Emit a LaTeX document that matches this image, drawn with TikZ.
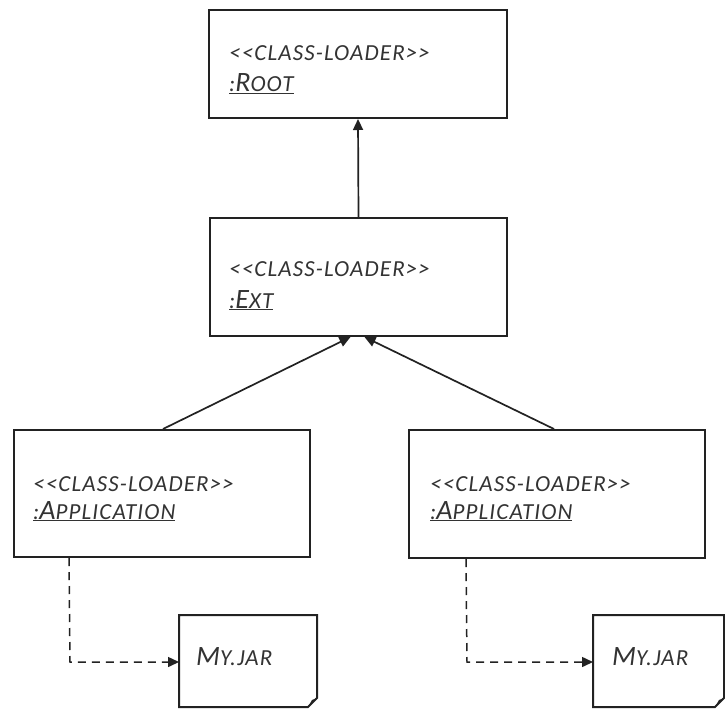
\documentclass[tikz,border=0pt]{standalone}
\usepackage{fontspec}
\setmainfont{Carlito}
\newfontfamily\lblfont[LetterSpace=5]{Carlito}
\usetikzlibrary{arrows.meta,calc}
\definecolor{ink}{HTML}{222222}
\definecolor{txt}{HTML}{333333}
\newcommand{\bigc}[1]{{\fontsize{28}{30}\selectfont #1}}
\newcommand{\stereo}{{<}{<}CLASS-LOADER{>}{>}}
\begin{document}
\begin{tikzpicture}[x=1pt,y=-1pt,
  box/.style={draw=ink,line width=2pt,fill=white,minimum width=#1,inner sep=0pt},
  lbl/.style={anchor=base west,inner sep=0pt,text=txt,font=\lblfont\fontsize{23}{26}\selectfont\itshape},
  dep/.style={draw=ink,line width=1.7pt,-{Triangle[length=11pt,width=10pt]}},
  use/.style={draw=ink,line width=1.5pt,dash pattern=on 8pt off 6pt,-{Triangle[length=11pt,width=10pt]}}]
\useasboundingbox (0,0) rectangle (725,709);
\clip (0,0) rectangle (725,709);
% boxes
\node[box=298pt,minimum height=108pt] (root) at (358,64) {};
\node[box=297pt,minimum height=118pt] (ext) at (358.5,277) {};
\node[box=296pt,minimum height=127pt] (app1) at (162,493.5) {};
\node[box=296pt,minimum height=128pt] (app2) at (557,494) {};
% texts
\node[lbl] (rs) at (229,60) {\stereo};
\node[lbl] (rn) at (229,92) {\underline{:\bigc{R}OOT}};
\node[lbl] (es) at (229,276) {\stereo};
\node[lbl] (en) at (229,308) {\underline{:\bigc{E}XT}};
\node[lbl] (a1s) at (33,491) {\stereo};
\node[lbl] (a1n) at (33,519) {\underline{:\bigc{A}PPLICATION}};
\node[lbl] (a2s) at (430,491) {\stereo};
\node[lbl] (a2n) at (430,519) {\underline{:\bigc{A}PPLICATION}};
% jars
\draw[ink,line width=2pt,fill=white] (179,615) -- (317,615) -- (317,698) -- (308,707) -- (179,707) -- cycle;
\fill[ink] (317,698) -- (308,707) -- (312,700) -- cycle;
\node[inner sep=0pt] (jar1) at (248,661) {};
\node[lbl] (j1t) at (196,665) {\bigc{M}Y.JAR};
\draw[ink,line width=2pt,fill=white] (593,615) -- (724,615) -- (724,698) -- (715,707) -- (593,707) -- cycle;
\fill[ink] (724,698) -- (715,707) -- (719,700) -- cycle;
\node[inner sep=0pt] (jar2) at (658,661) {};
\node[lbl] (j2t) at (612,665) {\bigc{M}Y.JAR};
% connectors
\draw[dep] (ext.north) -- (root.south);
\draw[dep] ($(app1.north west)+(150,0)$) -- ($(ext.south)+(-8,0)$);
\draw[dep] ($(app2.north west)+(146,0)$) -- ($(ext.south)+(6,0)$);
\coordinate (c1) at (70,662);
\coordinate (c2) at (467,662);
\draw[use] ($(app1.south west)+(56,0)$) -- (c1) -- (179,662);
\draw[use] ($(app2.south west)+(58,0)$) -- (c2) -- (593,662);
\end{tikzpicture}
\end{document}
